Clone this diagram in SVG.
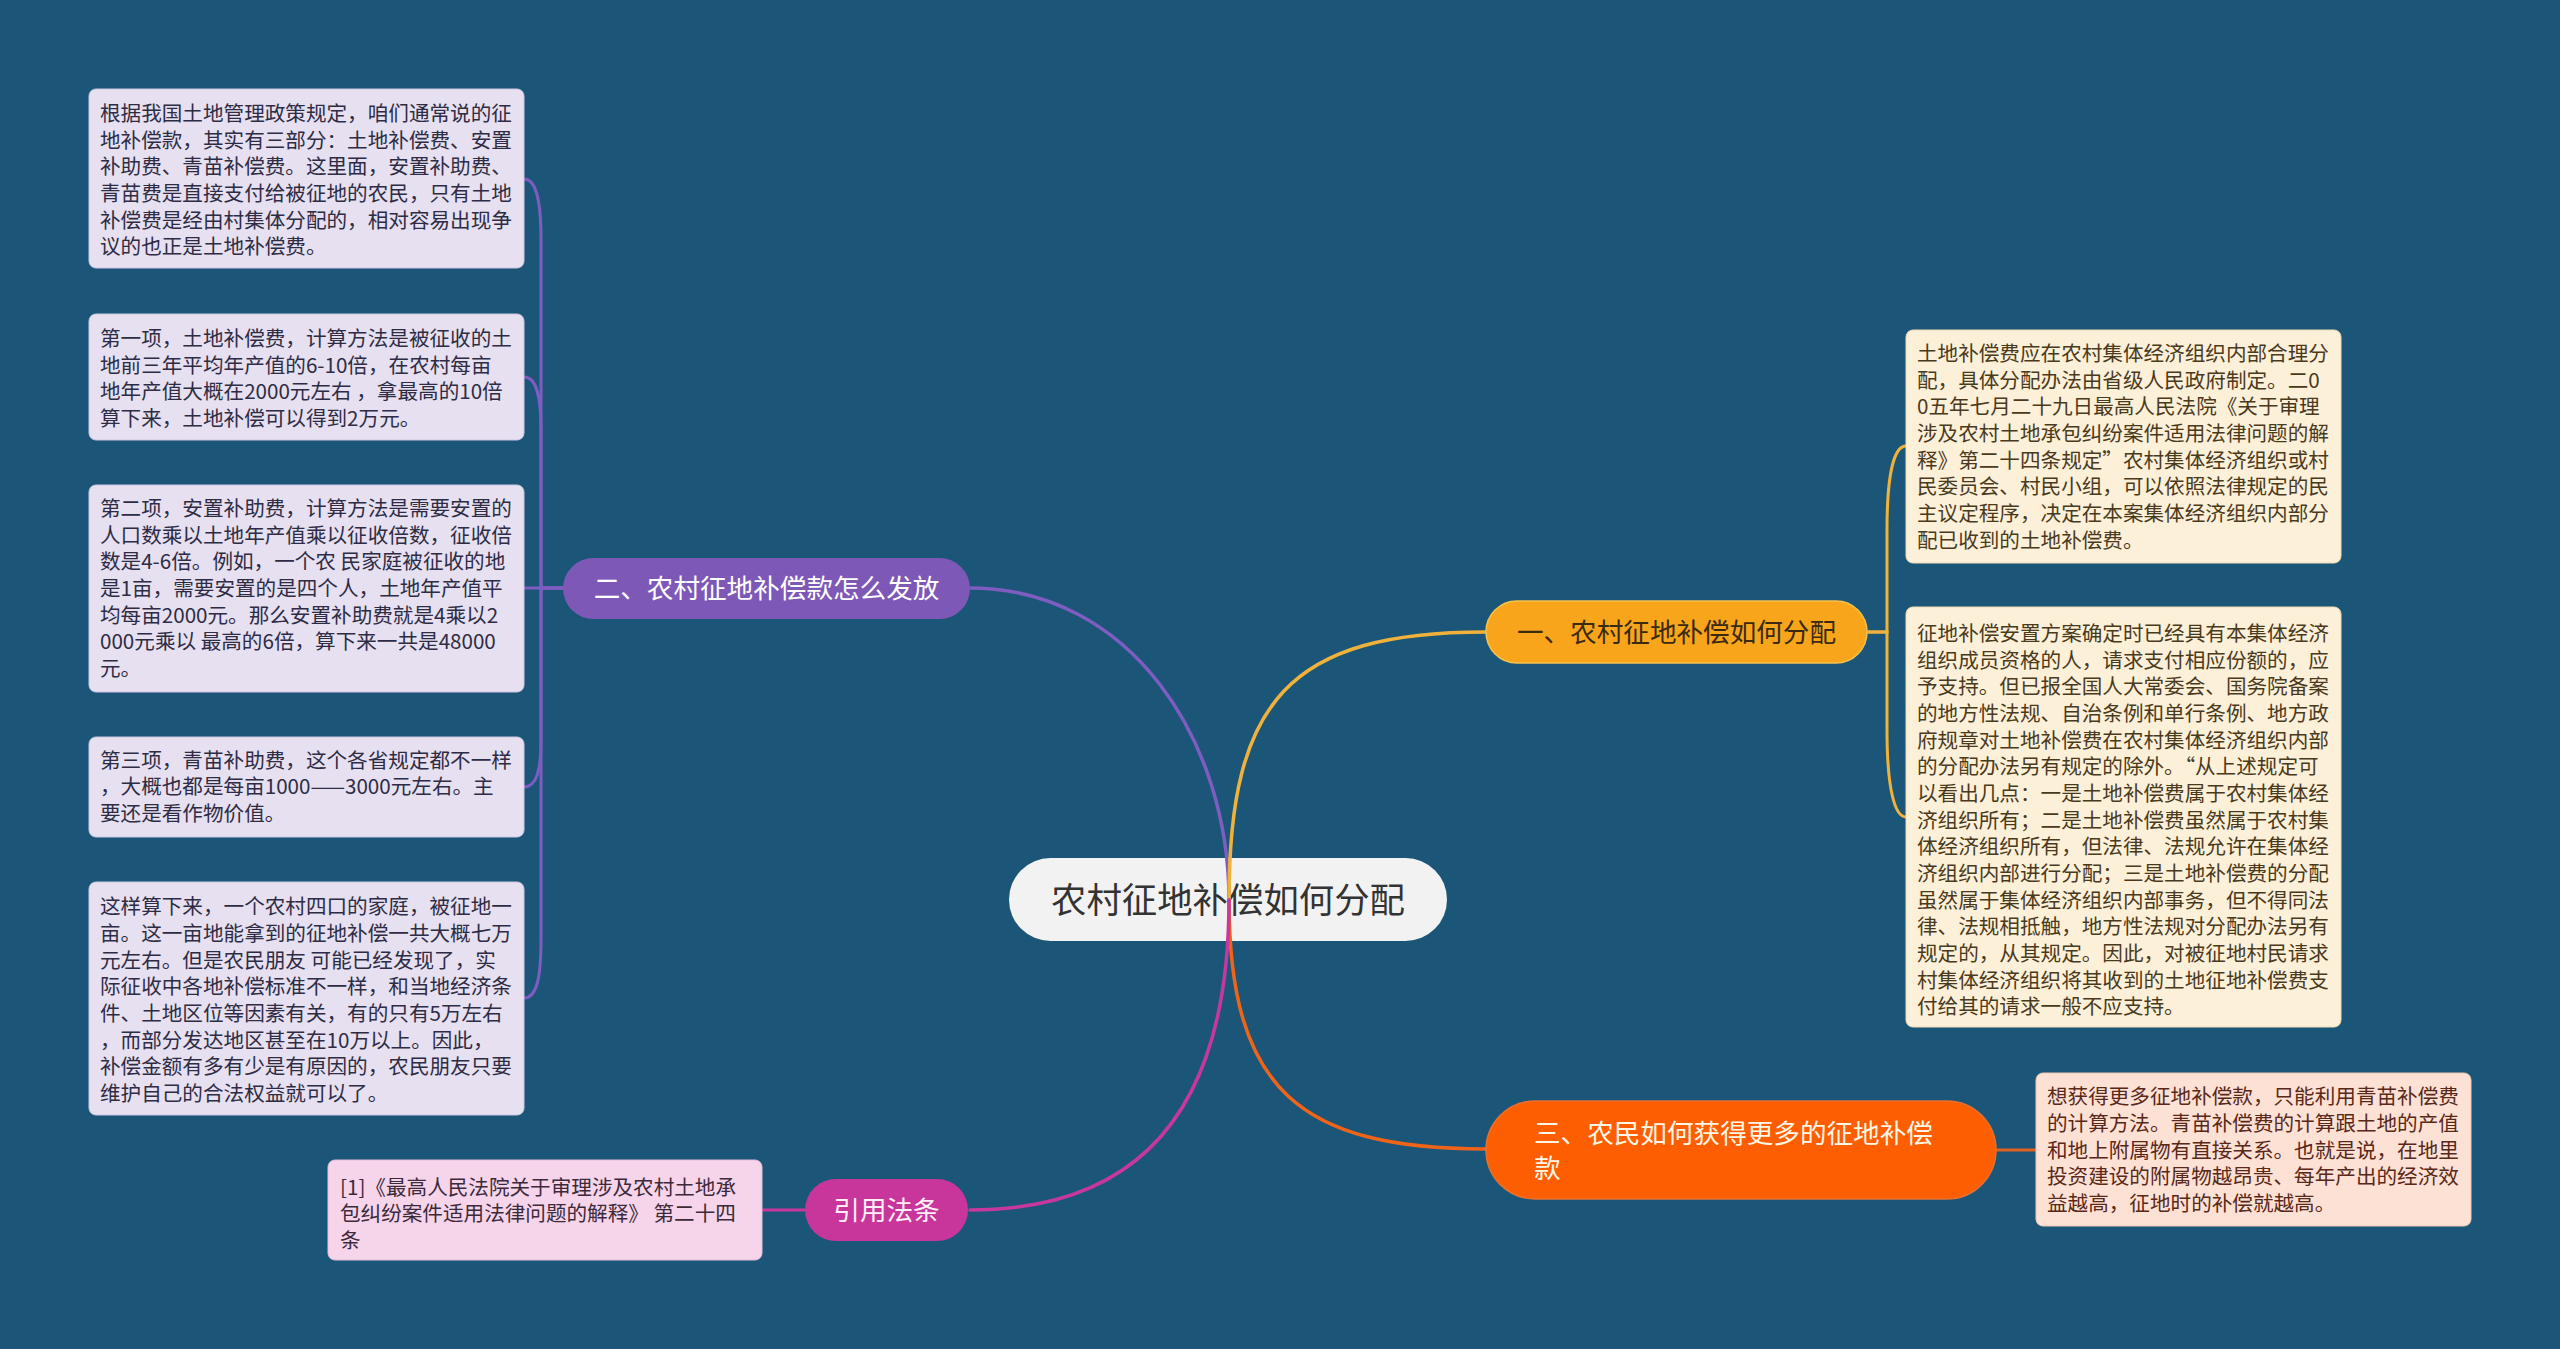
<svg xmlns="http://www.w3.org/2000/svg" width="2560" height="1349" viewBox="0 0 2560 1349">
<style>
text{font-family:"Noto Sans CJK SC","Noto Sans",sans-serif;}
.t{font-size:20.6px;}
.lt{fill:#2e2c44;}
.ct{fill:#4a3a1c;}
.pt{fill:#5a2818;}
.qt{fill:#3c2a3a;}
.lbox{fill:#e6e0f1;stroke:#cfc6e2;stroke-width:1;}
.cbox{fill:#fdf0d9;stroke:#eedcb8;stroke-width:1;}
.pbox{fill:#fde1d5;stroke:#f2c8b6;stroke-width:1;}
.qbox{fill:#f6d5ea;stroke:#e8bcd8;stroke-width:1;}
.br{font-size:26.6px;}
.c{fill:none;stroke-linecap:round;}
</style>
<rect width="2560" height="1349" fill="#1b5679"/>

<g id="center">
<rect x="1009" y="858" width="438" height="83" rx="41.5" fill="#f2f2f2"/>
<text x="1228" y="913" font-size="35.4" fill="#333" text-anchor="middle">农村征地补偿如何分配</text>
</g>

<g id="connectors">
<path class="c" d="M1229,900 C1229,740 1130,588 970,588" stroke="#7e5dc0" stroke-width="3.5"/>
<path class="c" d="M1229,900 C1229,700 1290,632 1486,632" stroke="#f0b23a" stroke-width="3.5"/>
<path class="c" d="M1229,900 C1229,1090 1300,1149 1486,1149" stroke="#f06418" stroke-width="3.5"/>
<path class="c" d="M1229,900 C1229,1110 1140,1210 970,1210" stroke="#c8389c" stroke-width="3.5"/>
<!-- purple children -->
<g stroke="#7e5dc0" stroke-width="3">
<path class="c" d="M563,588 L541,588 L541,240 C541,200 536,179 524,179"/>
<path class="c" d="M563,588 L541,588 L541,430 C541,395 536,377 524,377"/>
<path class="c" d="M563,588 L524,588"/>
<path class="c" d="M563,588 L541,588 L541,740 C541,772 536,787 524,787"/>
<path class="c" d="M563,588 L541,588 L541,940 C541,980 536,998 524,998"/>
</g>
<!-- golden children -->
<g stroke="#f0b23a" stroke-width="3">
<path class="c" d="M1867,632 L1887,632 L1887,530 C1887,470 1895,446 1906,446"/>
<path class="c" d="M1867,632 L1887,632 L1887,730 C1887,790 1895,817 1906,817"/>
</g>
<path class="c" d="M1996,1150 L2036,1150" stroke="#e0621e" stroke-width="3"/>
<path class="c" d="M805,1210 L762,1210" stroke="#c8389c" stroke-width="3"/>
</g>

<g id="branch1">
<rect x="1486" y="601" width="381" height="62" rx="31" fill="#f9a51c" stroke="#f6c24e" stroke-width="1.5"/>
<text class="br" x="1676.5" y="642" fill="#3a2a12" text-anchor="middle">一、农村征地补偿如何分配</text>
</g>

<g id="branch2">
<rect x="563" y="558" width="407" height="61" rx="30.5" fill="#7e58b6"/>
<text class="br" x="766.5" y="598" fill="#ffffff" text-anchor="middle">二、农村征地补偿款怎么发放</text>
</g>

<g id="branch3">
<rect x="1486" y="1101" width="510" height="98" rx="49" fill="#fe5e02" stroke="#e8702e" stroke-width="1.5"/>
<text class="br" fill="#fff6e6"><tspan x="1534" y="1143">三、农民如何获得更多的征地补偿</tspan><tspan x="1534" y="1178">款</tspan></text>
</g>

<g id="branch4">
<rect x="805" y="1179" width="163" height="62" rx="31" fill="#c8359b"/>
<text class="br" x="886.5" y="1220" fill="#fff0f8" text-anchor="middle">引用法条</text>
</g>

<g id="left1">
<rect class="lbox" x="89" y="89" width="435" height="179" rx="7"/>
<text class="t lt"><tspan x="100" y="121">根据我国土地管理政策规定，咱们通常说的征</tspan><tspan x="100" y="147.7">地补偿款，其实有三部分：土地补偿费、安置</tspan><tspan x="100" y="174.3">补助费、青苗补偿费。这里面，安置补助费、</tspan><tspan x="100" y="201">青苗费是直接支付给被征地的农民，只有土地</tspan><tspan x="100" y="227.7">补偿费是经由村集体分配的，相对容易出现争</tspan><tspan x="100" y="254.3">议的也正是土地补偿费。</tspan></text>
</g>

<g id="left2">
<rect class="lbox" x="89" y="314" width="435" height="126" rx="7"/>
<text class="t lt"><tspan x="100" y="346">第一项，土地补偿费，计算方法是被征收的土</tspan><tspan x="100" y="372.7">地前三年平均年产值的6-10倍，在农村每亩</tspan><tspan x="100" y="399.3">地年产值大概在2000元左右 ，拿最高的10倍</tspan><tspan x="100" y="426">算下来，土地补偿可以得到2万元。</tspan></text>
</g>

<g id="left3">
<rect class="lbox" x="89" y="485" width="435" height="207" rx="7"/>
<text class="t lt"><tspan x="100" y="516">第二项，安置补助费，计算方法是需要安置的</tspan><tspan x="100" y="542.7">人口数乘以土地年产值乘以征收倍数，征收倍</tspan><tspan x="100" y="569.3">数是4-6倍。例如，一个农 民家庭被征收的地</tspan><tspan x="100" y="596">是1亩，需要安置的是四个人，土地年产值平</tspan><tspan x="100" y="622.7">均每亩2000元。那么安置补助费就是4乘以2</tspan><tspan x="100" y="649.3">000元乘以 最高的6倍，算下来一共是48000</tspan><tspan x="100" y="676">元。</tspan></text>
</g>

<g id="left4">
<rect class="lbox" x="89" y="737" width="435" height="100" rx="7"/>
<text class="t lt"><tspan x="100" y="767.7">第三项，青苗补助费，这个各省规定都不一样</tspan><tspan x="100" y="794.3">，大概也都是每亩1000——3000元左右。主</tspan><tspan x="100" y="821">要还是看作物价值。</tspan></text>
</g>

<g id="left5">
<rect class="lbox" x="89" y="882" width="435" height="233" rx="7"/>
<text class="t lt"><tspan x="100" y="914.3">这样算下来，一个农村四口的家庭，被征地一</tspan><tspan x="100" y="941">亩。这一亩地能拿到的征地补偿一共大概七万</tspan><tspan x="100" y="967.7">元左右。但是农民朋友 可能已经发现了，实</tspan><tspan x="100" y="994.3">际征收中各地补偿标准不一样，和当地经济条</tspan><tspan x="100" y="1021">件、土地区位等因素有关，有的只有5万左右</tspan><tspan x="100" y="1047.7">，而部分发达地区甚至在10万以上。因此，</tspan><tspan x="100" y="1074.3">补偿金额有多有少是有原因的，农民朋友只要</tspan><tspan x="100" y="1101">维护自己的合法权益就可以了。</tspan></text>
</g>

<g id="right1">
<rect class="cbox" x="1906" y="330" width="435" height="233" rx="7"/>
<text class="t ct"><tspan x="1917" y="361">土地补偿费应在农村集体经济组织内部合理分</tspan><tspan x="1917" y="387.7">配，具体分配办法由省级人民政府制定。二0</tspan><tspan x="1917" y="414.3">0五年七月二十九日最高人民法院《关于审理</tspan><tspan x="1917" y="441">涉及农村土地承包纠纷案件适用法律问题的解</tspan><tspan x="1917" y="467.7">释》第二十四条规定”农村集体经济组织或村</tspan><tspan x="1917" y="494.3">民委员会、村民小组，可以依照法律规定的民</tspan><tspan x="1917" y="521">主议定程序，决定在本案集体经济组织内部分</tspan><tspan x="1917" y="547.7">配已收到的土地补偿费。</tspan></text>
</g>

<g id="right2">
<rect class="cbox" x="1906" y="607" width="435" height="420" rx="7"/>
<text class="t ct"><tspan x="1917" y="641">征地补偿安置方案确定时已经具有本集体经济</tspan><tspan x="1917" y="667.7">组织成员资格的人，请求支付相应份额的，应</tspan><tspan x="1917" y="694.3">予支持。但已报全国人大常委会、国务院备案</tspan><tspan x="1917" y="721">的地方性法规、自治条例和单行条例、地方政</tspan><tspan x="1917" y="747.7">府规章对土地补偿费在农村集体经济组织内部</tspan><tspan x="1917" y="774.3">的分配办法另有规定的除外。“从上述规定可</tspan><tspan x="1917" y="801">以看出几点：一是土地补偿费属于农村集体经</tspan><tspan x="1917" y="827.7">济组织所有；二是土地补偿费虽然属于农村集</tspan><tspan x="1917" y="854.3">体经济组织所有，但法律、法规允许在集体经</tspan><tspan x="1917" y="881">济组织内部进行分配；三是土地补偿费的分配</tspan><tspan x="1917" y="907.7">虽然属于集体经济组织内部事务，但不得同法</tspan><tspan x="1917" y="934.3">律、法规相抵触，地方性法规对分配办法另有</tspan><tspan x="1917" y="961">规定的，从其规定。因此，对被征地村民请求</tspan><tspan x="1917" y="987.7">村集体经济组织将其收到的土地征地补偿费支</tspan><tspan x="1917" y="1014.3">付给其的请求一般不应支持。</tspan></text>
</g>

<g id="right3">
<rect class="pbox" x="2036" y="1073" width="435" height="153" rx="7"/>
<text class="t pt"><tspan x="2047" y="1104.3">想获得更多征地补偿款，只能利用青苗补偿费</tspan><tspan x="2047" y="1131">的计算方法。青苗补偿费的计算跟土地的产值</tspan><tspan x="2047" y="1157.7">和地上附属物有直接关系。也就是说，在地里</tspan><tspan x="2047" y="1184.3">投资建设的附属物越昂贵、每年产出的经济效</tspan><tspan x="2047" y="1211">益越高，征地时的补偿就越高。</tspan></text>
</g>

<g id="cite">
<rect class="qbox" x="328" y="1160" width="434" height="100" rx="7"/>
<text class="t qt"><tspan x="340" y="1194.5">[1]《最高人民法院关于审理涉及农村土地承</tspan><tspan x="340" y="1221">包纠纷案件适用法律问题的解释》 第二十四</tspan><tspan x="340" y="1247.5">条</tspan></text>
</g>
</svg>
